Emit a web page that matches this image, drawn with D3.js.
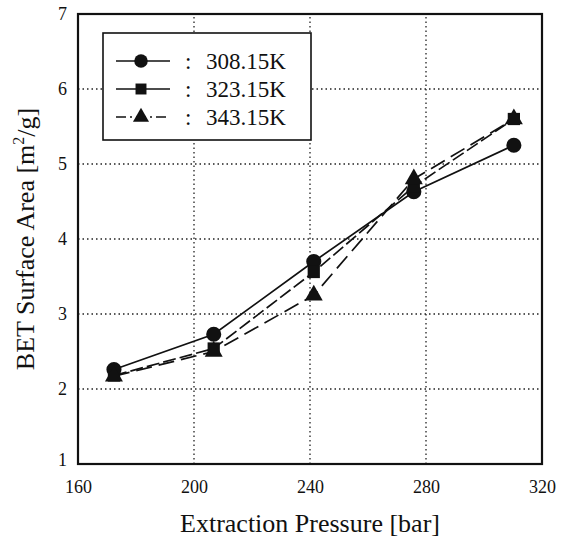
<!DOCTYPE html>
<html lang="en">
<head>
<meta charset="UTF-8">
<title></title>
<script src="https://cdn.jsdelivr.net/npm/d3@7/dist/d3.min.js"></script>
<style>
    body{ margin:0; background:#fff; }
    svg text{ font-family:"Liberation Serif","DejaVu Serif",serif; fill:#111; }
    .grid line{ stroke:#222; stroke-width:1.3; stroke-dasharray:1.5,3; }
</style>
</head>
<body>
<div id="app"></div>
<script>
var pressure = [172.4, 206.8, 241.3, 275.8, 310.3];
var s308 = [2.26, 2.73, 3.70, 4.63, 5.25];
var s323 = [2.18, 2.54, 3.56, 4.70, 5.60];
var s343 = [2.17, 2.50, 3.25, 4.80, 5.60];
var seriesNames = ["308.15K", "323.15K", "343.15K"];
var xTicks = [160, 200, 240, 280, 320];
var yTicks = [1, 2, 3, 4, 5, 6, 7];

var W = 569, H = 542;
var m = {left:78, right:27, top:14, bottom:78};
var serif = "Liberation Serif, DejaVu Serif, serif";

var svg = d3.select("#app").append("svg").attr("width", W).attr("height", H)
    .attr("font-family", serif);

var x = d3.scaleLinear().domain([160, 320]).range([m.left, W - m.right]);
var y = d3.scaleLinear().domain([1, 7]).range([H - m.bottom, m.top]);

// grid
var g = svg.append("g").attr("class", "grid");
g.selectAll(".gx").data(xTicks.slice(1, -1)).enter().append("line")
    .attr("x1", function(d){ return x(d); }).attr("x2", function(d){ return x(d); })
    .attr("y1", y(1)).attr("y2", y(7));
g.selectAll(".gy").data(yTicks.slice(1, -1)).enter().append("line")
    .attr("y1", function(d){ return y(d); }).attr("y2", function(d){ return y(d); })
    .attr("x1", x(160)).attr("x2", x(320));

// axes
var xAxis = svg.append("g").attr("transform", "translate(0," + y(1) + ")")
    .call(d3.axisBottom(x).tickValues(xTicks).tickFormat(d3.format("d")).tickSize(0).tickPadding(15));
var yAxis = svg.append("g").attr("transform", "translate(" + x(160) + ",0)")
    .call(d3.axisLeft(y).tickValues(yTicks).tickFormat(d3.format("d")).tickSize(0).tickPadding(11));
[xAxis, yAxis].forEach(function(a){
    a.attr("font-family", serif).attr("font-size", 18);
    a.select(".domain").remove();
    a.selectAll("text").attr("font-size", 18);
});
xAxis.selectAll("text").attr("dy", "0.8em");
// "1" in the reference sits a bit lower
yAxis.selectAll(".tick").filter(function(d){ return d == 1; }).select("text").attr("dy", "0.1em");

// frame
svg.append("rect")
    .attr("x", x(160)).attr("y", y(7))
    .attr("width", x(320) - x(160)).attr("height", y(1) - y(7))
    .attr("fill", "none").attr("stroke", "#111").attr("stroke-width", 2.2);

// series
var series = [
    {name:seriesNames[0], vals:s308, dash:null, sym:d3.symbolCircle, size:180},
    {name:seriesNames[1], vals:s323, dash:"13,4", sym:d3.symbolSquare, size:150},
    {name:seriesNames[2], vals:s343, dash:"16,7", sym:d3.symbolTriangle, size:140}
];

var line = d3.line()
    .x(function(d){ return x(d[0]); })
    .y(function(d){ return y(d[1]); });

series.forEach(function(s){
    var pts = pressure.map(function(p, i){ return [p, s.vals[i]]; });
    svg.append("path").datum(pts)
        .attr("d", line)
        .attr("fill", "none").attr("stroke", "#111").attr("stroke-width", 1.7)
        .attr("stroke-dasharray", s.dash);
});
series.forEach(function(s){
    var pts = pressure.map(function(p, i){ return [p, s.vals[i]]; });
    svg.selectAll(null).data(pts).enter().append("path")
        .attr("d", d3.symbol().type(s.sym).size(s.size))
        .attr("transform", function(d){ return "translate(" + x(d[0]) + "," + y(d[1]) + ")"; })
        .attr("fill", "#111");
});

// legend
var lg = svg.append("g");
lg.append("rect").attr("x", 103).attr("y", 33).attr("width", 208).attr("height", 107)
    .attr("fill", "#fff").attr("stroke", "#111").attr("stroke-width", 1.6);
var legDash = [null, null, "10,4,2,4"];
series.forEach(function(s, i){
    var ly = 61 + i * 28;
    lg.append("line").attr("x1", 116).attr("x2", 170).attr("y1", ly).attr("y2", ly)
        .attr("stroke", "#111").attr("stroke-width", 1.7).attr("stroke-dasharray", legDash[i]);
    lg.append("path").attr("d", d3.symbol().type(s.sym).size(s.size * 0.8))
        .attr("transform", "translate(141," + ly + ")").attr("fill", "#111");
    lg.append("text").attr("x", 185).attr("y", ly).attr("dy", "0.35em")
        .attr("font-size", 23).text(":");
    lg.append("text").attr("x", 206).attr("y", ly).attr("dy", "0.35em")
        .attr("font-size", 23).text(s.name);
});

// axis titles
svg.append("text").attr("x", (x(160) + x(320)) / 2).attr("y", 532)
    .attr("text-anchor", "middle").attr("font-size", 26).text("Extraction Pressure [bar]");
var yt = svg.append("text")
    .attr("transform", "translate(34," + ((y(1) + y(7)) / 2) + ") rotate(-90)")
    .attr("text-anchor", "middle").attr("font-size", 26);
yt.append("tspan").text("BET Surface Area [m");
yt.append("tspan").attr("font-size", 16).attr("dy", "-0.6em").text("2");
yt.append("tspan").attr("dy", "0.4em").text("/g]");
</script>
</body>
</html>
